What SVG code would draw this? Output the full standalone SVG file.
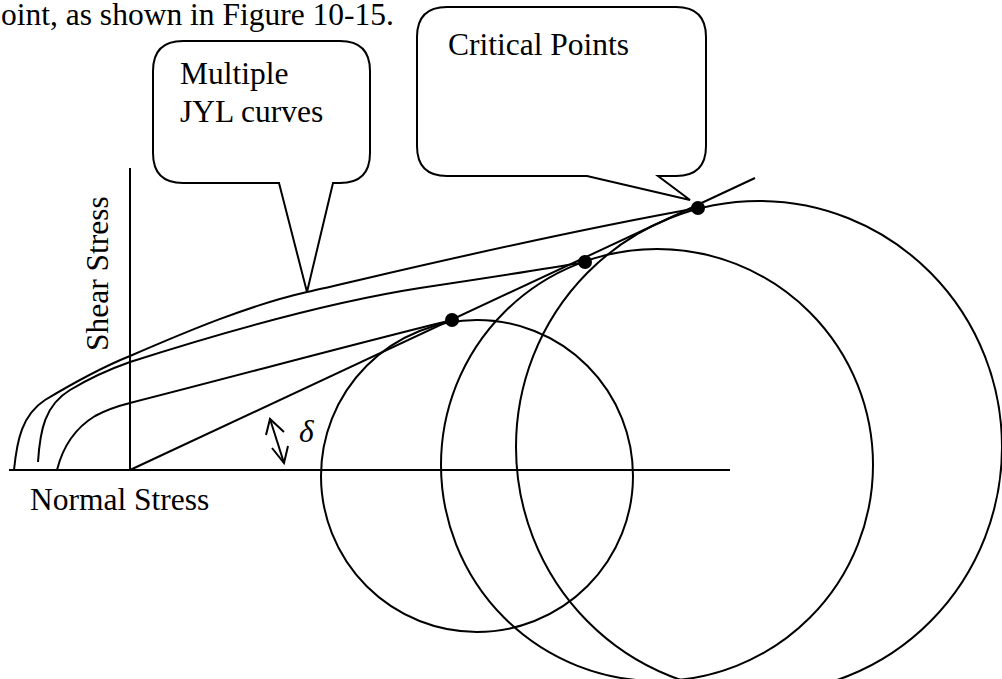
<svg xmlns="http://www.w3.org/2000/svg" width="1002" height="679" viewBox="0 0 1002 679">
<style>
.ln{fill:none;stroke:#000;stroke-width:2}
.t{font-family:"Liberation Serif","Times New Roman",serif;font-size:31.5px;fill:#000}
.dot{fill:#000}
</style>
<rect width="1002" height="679" fill="#fff"/>
<text class="t" x="1" y="25">oint, as shown in Figure 10-15.</text>
<g id="axes">
<line class="ln" x1="9" y1="470" x2="730" y2="470"/>
<line class="ln" x1="130" y1="168" x2="130" y2="470"/>
<text class="t" x="30" y="510">Normal Stress</text>
<text class="t" transform="translate(108,351) rotate(-90)">Shear Stress</text>
</g>
<g id="circles">
<circle class="ln" cx="477" cy="476" r="156"/>
<circle class="ln" cx="657" cy="465" r="216"/>
<ellipse class="ln" cx="759" cy="447" rx="243" ry="246"/>
</g>
<g id="connectors">
<line class="ln" x1="130" y1="470" x2="755" y2="178"/>
<path class="ln" d="M14,470 C17,440 22,415 45,400 C70,385 100,368 130,356 C190,330 250,305 307,292 C370,278 530,238 698,208"/>
<path class="ln" d="M38,462 C40,430 45,405 70,390 C90,378 110,369 130,362 C230,330 330,302 420,288 C480,279 540,270 585,262"/>
<path class="ln" d="M57,470 C62,450 72,430 95,416 C108,409 118,406 130,403 C240,375 350,345 452,320"/>
<g id="delta-arrow">
<line class="ln" x1="270" y1="419" x2="284" y2="463"/>
<polyline class="ln" points="266,435 270,419 284,432"/>
<polyline class="ln" points="272,448 284,463 288,446"/>
</g>
<text class="t" x="299" y="442" font-style="italic">δ</text>
</g>
<g id="points">
<circle class="dot" cx="452" cy="320" r="7"/>
<circle class="dot" cx="585" cy="262" r="7"/>
<circle class="dot" cx="698" cy="208" r="7"/>
</g>
<g id="callout-jyl">
<path class="ln" d="M183,41 H340 Q370,41 370,71 V153 Q370,183 340,183 H333 L307,292 L279,183 H183 Q153,183 153,153 V71 Q153,41 183,41 Z" fill="#fff"/>
<text class="t" x="180" y="84">Multiple</text>
<text class="t" x="180" y="122">JYL curves</text>
</g>
<g id="callout-critical">
<path class="ln" d="M447,7 H676 Q706,7 706,37 V146 Q706,176 676,176 H658 L690,200 L587,176 H447 Q417,176 417,146 V37 Q417,7 447,7 Z" fill="#fff"/>
<text class="t" x="448" y="55">Critical Points</text>
</g>
</svg>
